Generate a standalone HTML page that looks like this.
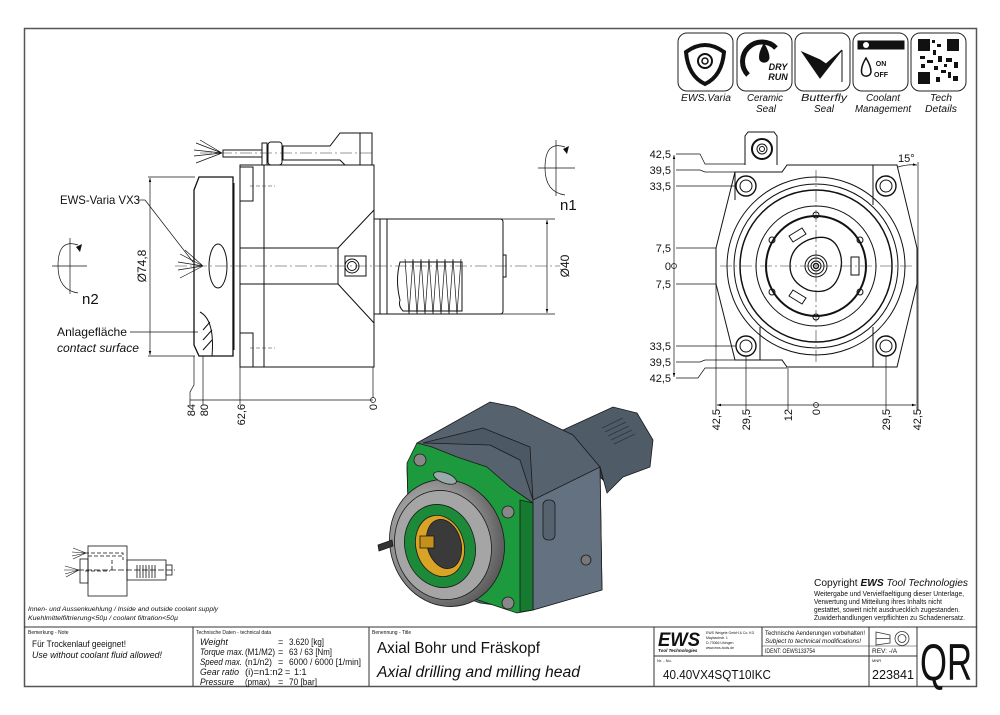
<!DOCTYPE html>
<html><head><meta charset="utf-8"><style>
html,body{margin:0;padding:0;background:#fff;}
svg{display:block;}
text{font-family:"Liberation Sans",sans-serif;fill:#111;}
</style></head><body>
<svg width="1000" height="715" viewBox="0 0 1000 715" xmlns="http://www.w3.org/2000/svg">
<defs>
<radialGradient id="ring" cx="0.4" cy="0.4" r="0.7"><stop offset="0" stop-color="#d8d8d8"/><stop offset="0.6" stop-color="#8a8a8a"/><stop offset="1" stop-color="#4a4a4a"/></radialGradient>
<marker id="ar" viewBox="0 0 10 10" refX="10" refY="5" markerWidth="6" markerHeight="6" orient="auto-start-reverse"><path d="M0,2 L10,5 L0,8z" fill="#000"/></marker>
</defs>
<rect x="24.5" y="28.5" width="952" height="658" fill="none" stroke="#555" stroke-width="1.5"/>

<!-- icons -->
<g fill="none" stroke="#222" stroke-width="1">
<rect x="678" y="33" width="55" height="58" rx="9"/>
<rect x="737" y="33" width="55" height="58" rx="9"/>
<rect x="795" y="33" width="55" height="58" rx="9"/>
<rect x="853" y="33" width="55" height="58" rx="9"/>
<rect x="911" y="33" width="55" height="58" rx="9"/>
</g>
<g stroke="#111" fill="none">
<path d="M686,52 Q705,38 724,52 Q722,76 705,84 Q688,76 686,52z" stroke-width="4"/>
<circle cx="705" cy="61" r="7" stroke-width="2"/><circle cx="705" cy="61" r="3" stroke-width="1.5"/>
<path d="M748,75 A18,18 0 1 1 776,48" stroke-width="5"/>
<path d="M764,44 Q758,54 760,60 A5,5 0 0 0 769,58 Q769,52 764,44z" fill="#111"/>
<path d="M802,52 L820,78 L842,50 L826,64 L820,60 L802,52z" fill="#111"/>
<line x1="842" y1="50" x2="842" y2="82" stroke-width="1"/>
<rect x="858" y="41" width="46" height="8" fill="#111"/>
<circle cx="866" cy="45" r="3" fill="#fff" stroke="none"/>
<path d="M866,58 Q860,68 862,74 A5,5 0 0 0 871,72 Q871,66 866,58z" stroke-width="1.5"/>
</g>
<text x="881" y="66" font-size="7" font-weight="bold" text-anchor="middle">ON</text>
<text x="881" y="77" font-size="7" font-weight="bold" text-anchor="middle">OFF</text>
<text x="778" y="70" font-size="9" font-weight="bold" font-style="italic" text-anchor="middle">DRY</text>
<text x="778" y="80" font-size="9" font-weight="bold" font-style="italic" text-anchor="middle">RUN</text>
<g fill="#111">
<rect x="918" y="39" width="12" height="12"/><rect x="947" y="39" width="12" height="12"/><rect x="918" y="72" width="12" height="12"/>
<rect x="932" y="40" width="3" height="3"/><rect x="937" y="44" width="4" height="3"/><rect x="933" y="50" width="3" height="5"/><rect x="920" y="56" width="5" height="3"/><rect x="927" y="60" width="6" height="3"/><rect x="938" y="56" width="4" height="6"/><rect x="946" y="58" width="6" height="4"/><rect x="954" y="62" width="4" height="6"/><rect x="934" y="66" width="4" height="4"/><rect x="941" y="70" width="5" height="3"/><rect x="948" y="72" width="3" height="6"/><rect x="936" y="77" width="4" height="5"/><rect x="953" y="76" width="5" height="5"/><rect x="921" y="64" width="4" height="4"/><rect x="944" y="64" width="3" height="3"/>
</g>
<g font-size="10" font-style="italic">
<text x="681" y="101" textLength="50" lengthAdjust="spacingAndGlyphs">EWS.Varia</text>
<text x="747" y="101" textLength="36" lengthAdjust="spacingAndGlyphs">Ceramic</text><text x="756" y="112" textLength="20" lengthAdjust="spacingAndGlyphs">Seal</text>
<text x="801" y="101" textLength="46" lengthAdjust="spacingAndGlyphs">Butterfly</text><text x="814" y="112" textLength="20" lengthAdjust="spacingAndGlyphs">Seal</text>
<text x="866" y="101" textLength="34" lengthAdjust="spacingAndGlyphs">Coolant</text><text x="855" y="112" textLength="56" lengthAdjust="spacingAndGlyphs">Management</text>
<text x="930" y="101" textLength="22" lengthAdjust="spacingAndGlyphs">Tech</text><text x="925" y="112" textLength="32" lengthAdjust="spacingAndGlyphs">Details</text>
</g>

<!-- LEFT VIEW -->
<g stroke="#111" stroke-width="1" fill="none">
<path d="M223,150 L262,150 L262,157 L223,157z"/>
<rect x="262" y="143" width="5" height="22"/>
<rect x="268" y="142" width="14" height="23" rx="3"/>
<path d="M283,146 L330,146 L340,133 L372,133 L372,165 L345,165 L340,160 L283,160z"/>
<line x1="360" y1="133" x2="360" y2="165"/>
<path d="M222,153 L196,143 M222,153 L194,150 M222,153 L194,156 M222,153 L196,163 M222,153 L200,140" stroke-width="0.7"/>
<path d="M203,266 L180,254 M203,266 L178,262 M203,266 L178,270 M203,266 L180,278 M203,266 L185,250" stroke-width="0.7"/>
<rect x="240" y="165" width="134" height="202"/>
<line x1="264" y1="165" x2="264" y2="367"/>
<rect x="240" y="167" width="13" height="34"/>
<rect x="240" y="333" width="13" height="34"/>
<line x1="374" y1="210" x2="338" y2="248"/>
<line x1="374" y1="323" x2="338" y2="284"/>
<line x1="240" y1="248" x2="338" y2="248"/><line x1="240" y1="284" x2="338" y2="284"/>
<line x1="338" y1="248" x2="338" y2="284"/>
<rect x="345" y="256" width="21" height="20"/>
<circle cx="352" cy="266" r="7"/><circle cx="352" cy="266" r="4.5"/>
<path d="M199,177 L233,177 L233,356 L199,356 L194,345 L194,190z" stroke-width="1.3"/>
<line x1="234" y1="183" x2="234" y2="350"/>
<ellipse cx="218" cy="266" rx="9" ry="22"/>
<path d="M200,312 Q215,320 212,356" />
<path d="M203,330 L210,322 M203,340 L212,330 M203,350 L212,340"/>
<rect x="374" y="219" width="13" height="95"/>
<line x1="380" y1="219" x2="380" y2="314"/>
<path d="M387,219 L500,219 Q503,219 503,222 L503,311 Q503,314 500,314 L387,314z"/>
<rect x="503" y="255" width="3" height="22"/>
<path d="M400,300 Q395,280 400,262 L462,262 L462,311 L403,311 Q398,306 400,300z"/>
<path d="M405,259 L409,314 L413,259 L417,314 L421,259 L425,314 L429,259 L433,314 L437,259 L441,314 L445,259 L449,314 L453,259 L457,314 L461,259" stroke-width="0.7"/>
</g>
<g stroke="#333" stroke-width="0.6" stroke-dasharray="12,3,2,3" fill="none">
<line x1="175" y1="266" x2="560" y2="266"/>
<line x1="200" y1="153" x2="372" y2="153"/>
<line x1="250" y1="186" x2="275" y2="186" stroke-dasharray="4,2"/>
<line x1="250" y1="348" x2="275" y2="348" stroke-dasharray="4,2"/>
</g>
<g stroke="#111" stroke-width="0.7" fill="none">
<line x1="148" y1="177" x2="195" y2="177"/><line x1="148" y1="356" x2="195" y2="356"/>
<line x1="150" y1="178" x2="150" y2="355" marker-start="url(#ar)" marker-end="url(#ar)"/>
<line x1="500" y1="219" x2="555" y2="219"/><line x1="500" y1="314" x2="555" y2="314"/>
<line x1="547" y1="220" x2="547" y2="313" marker-start="url(#ar)" marker-end="url(#ar)"/>
<line x1="137" y1="200" x2="145" y2="200"/><line x1="145" y1="200" x2="193" y2="262"/>
<line x1="130" y1="332" x2="198" y2="332"/>
<path d="M194,356 L194,385 L190,392 L190,405"/>
<line x1="203" y1="356" x2="203" y2="405"/>
<line x1="240" y1="367" x2="240" y2="405"/>
<line x1="373" y1="367" x2="373" y2="398"/>
<line x1="190" y1="400" x2="373" y2="400"/>
<circle cx="373" cy="400" r="2.5"/>
<line x1="52" y1="266" x2="87" y2="266"/><line x1="70" y1="238" x2="70" y2="294"/>
<path d="M78,245 Q58,238 58,266 Q58,290 78,293"/>
<line x1="538" y1="168" x2="575" y2="168"/><line x1="556" y1="140" x2="556" y2="196"/>
<path d="M565,147 Q545,140 545,168 Q545,192 565,195"/>
</g>
<path d="M76,247 L82,244 L80,252z" fill="#111"/>
<path d="M563,149 L569,146 L567,154z" fill="#111"/>
<g font-size="12">
<text x="60" y="204" textLength="80" lengthAdjust="spacingAndGlyphs">EWS-Varia VX3</text>
<text x="57" y="336" textLength="70" lengthAdjust="spacingAndGlyphs">Anlagefläche</text>
<text x="57" y="352" font-style="italic" textLength="82" lengthAdjust="spacingAndGlyphs">contact surface</text>
<text x="82" y="304" font-size="15">n2</text>
<text x="560" y="210" font-size="15">n1</text>
<text transform="translate(146,266) rotate(-90)" text-anchor="middle">Ø74,8</text>
<text transform="translate(569,266) rotate(-90)" text-anchor="middle">Ø40</text>
<g font-size="11" text-anchor="end">
<text transform="translate(195,404) rotate(-90)">84</text>
<text transform="translate(208,404) rotate(-90)">80</text>
<text transform="translate(245,404) rotate(-90)">62,6</text>
<text transform="translate(377,404) rotate(-90)">0</text>
</g>
</g>

<!-- RIGHT VIEW -->
<g stroke="#111" stroke-width="1" fill="none">
<path d="M745,165 L745,136 L748,132 L774,132 L777,136 L777,165"/>
<path d="M787,165 L897,165 L917,248 L917,284 L897,367 L787,367 L782,360 L735,360 L716,284 L716,248 L735,172 L782,172z"/>
<circle cx="762" cy="149" r="10" stroke-width="2"/><circle cx="762" cy="149" r="5"/><circle cx="762" cy="149" r="2.5"/>
<line x1="735" y1="172" x2="735" y2="200"/>
<path d="M873,165 L873,205 M873,327 L873,367 M760,327 L760,360"/>
<g stroke-width="1.4">
<circle cx="746" cy="186" r="10"/><circle cx="886" cy="186" r="10"/><circle cx="746" cy="346" r="10"/><circle cx="886" cy="346" r="10"/>
</g>
<circle cx="746" cy="186" r="6"/><circle cx="886" cy="186" r="6"/><circle cx="746" cy="346" r="6"/><circle cx="886" cy="346" r="6"/>
<circle cx="816" cy="266" r="89"/>
<circle cx="816" cy="266" r="82"/>
<circle cx="816" cy="266" r="76" stroke-width="1.5"/>
<circle cx="816" cy="266" r="60"/>
<circle cx="816" cy="266" r="50" stroke-width="2"/>
<path d="M790,266 Q790,248 808,240 Q830,232 838,248 Q845,262 838,278 Q830,296 808,290 Q790,282 790,266z" stroke-width="1.3"/>
<circle cx="816" cy="266" r="11"/><circle cx="816" cy="266" r="8"/><circle cx="816" cy="266" r="5"/><circle cx="816" cy="266" r="2.5" stroke-width="1.5"/>
<circle cx="816" cy="215" r="3"/><circle cx="816" cy="317" r="3"/><circle cx="772" cy="240" r="3"/><circle cx="860" cy="240" r="3"/><circle cx="772" cy="292" r="3"/><circle cx="860" cy="292" r="3"/>
<rect x="851" y="257" width="8" height="18"/>
<path d="M789,236 L802,228 L806,234 L793,242z M789,296 L802,304 L806,298 L793,290z"/>
</g>
<g stroke="#333" stroke-width="0.6" stroke-dasharray="12,3,2,3">
<line x1="816" y1="170" x2="816" y2="362"/><line x1="720" y1="266" x2="912" y2="266"/>
</g>
<g stroke="#111" stroke-width="0.7" fill="none">
<path d="M676,154 L700,154 L705,164 L745,164"/>
<path d="M676,170 L700,170 L705,172 L735,172"/>
<line x1="676" y1="186" x2="736" y2="186"/>
<line x1="676" y1="248" x2="716" y2="248"/><line x1="676" y1="284" x2="716" y2="284"/>
<line x1="676" y1="346" x2="736" y2="346"/>
<path d="M676,362 L700,362 L705,360 L735,360"/>
<path d="M676,378 L698,378 L705,368 L787,368"/>
<line x1="674" y1="155" x2="674" y2="377" marker-start="url(#ar)" marker-end="url(#ar)"/>
<circle cx="674" cy="266" r="2.5"/>
<line x1="716" y1="284" x2="716" y2="410"/><line x1="746" y1="356" x2="746" y2="410"/>
<line x1="788" y1="368" x2="788" y2="410"/><line x1="917" y1="284" x2="917" y2="410"/>
<line x1="886" y1="356" x2="886" y2="410"/><line x1="918" y1="162" x2="918" y2="410"/>
<line x1="717" y1="405" x2="786" y2="405" marker-start="url(#ar)"/>
<line x1="846" y1="405" x2="916" y2="405" marker-end="url(#ar)"/>
<line x1="786" y1="405" x2="846" y2="405"/>
<circle cx="816" cy="405" r="2.5"/>
<path d="M898,167 Q908,164 917,165" marker-end="url(#ar)"/>
</g>
<g font-size="11">
<g text-anchor="end">
<text x="671" y="158">42,5</text><text x="671" y="174">39,5</text><text x="671" y="190">33,5</text>
<text x="671" y="252">7,5</text><text x="671" y="270">0</text><text x="671" y="288">7,5</text>
<text x="671" y="350">33,5</text><text x="671" y="366">39,5</text><text x="671" y="382">42,5</text>
</g>
<text x="898" y="162">15°</text>
<g text-anchor="end">
<text transform="translate(720,409) rotate(-90)">42,5</text>
<text transform="translate(750,409) rotate(-90)">29,5</text>
<text transform="translate(792,409) rotate(-90)">12</text>
<text transform="translate(820,409) rotate(-90)">0</text>
<text transform="translate(890,409) rotate(-90)">29,5</text>
<text transform="translate(921,409) rotate(-90)">42,5</text>
</g>
</g>

<!-- 3D render -->
<g stroke="#1a1a1a" stroke-width="0.8">
<path d="M563,430 L613,407 L637,413 L653,440 L650,467 L623,477 L607,493 L600,467z" fill="#4f5b66"/>
<path d="M563,430 L600,467 L603,480 L560,440z" fill="#3f4a54"/>
<path d="M417,443 L490,402 L515,407 L573,435 L600,467 L602,590 L533,610 L480,603 L410,577 L407,467z" fill="#56636e"/>
<path d="M533,500 L600,467 L602,590 L533,610z" fill="#637180"/>
<path d="M423,443 L483,428 L530,447 L533,500 L520,460 L490,445z" fill="#4c5864"/>
<path d="M407,463 L417,443 L432,447 L457,457 L487,467 L510,487 L533,503 L533,610 L517,613 L487,603 L410,577z" fill="#1d9a3d"/>
<path d="M520,500 L533,503 L533,610 L520,612z" fill="#167a30"/>
<rect x="543" y="500" width="12" height="40" rx="5" fill="#56636e"/>
<circle cx="420" cy="460" r="6" fill="#888"/><circle cx="508" cy="512" r="6" fill="#888"/><circle cx="508" cy="603" r="6" fill="#888"/><circle cx="586" cy="560" r="5" fill="#777"/>
<path d="M602,428 L623,418 M605,432 L626,422 M608,436 L629,426 M611,440 L632,430 M614,444 L635,434" stroke="#2e3740"/>
<ellipse cx="447" cy="543" rx="57" ry="64" fill="url(#ring)" transform="rotate(-15 447 543)"/>
<ellipse cx="443" cy="545" rx="48" ry="55" fill="#a5a5a5" transform="rotate(-15 443 545)"/>
<ellipse cx="440" cy="546" rx="35" ry="42" fill="#1d8a3a" transform="rotate(-15 440 546)"/>
<ellipse cx="440" cy="546" rx="24" ry="31" fill="#d9a326" transform="rotate(-15 440 546)"/>
<ellipse cx="444" cy="544" rx="17" ry="25" fill="#3a3a3a" transform="rotate(-15 444 544)"/>
<rect x="420" y="536" width="14" height="12" fill="#c58f1b"/>
<ellipse cx="445" cy="478" rx="12" ry="5" fill="#9aa" transform="rotate(20 445 478)"/>
<path d="M378,545 L392,540 L393,546 L379,551z" fill="#333"/>
</g>

<!-- small schematic -->
<g stroke="#111" stroke-width="0.8" fill="none">
<rect x="88" y="546" width="39" height="50"/>
<rect x="80" y="559" width="8" height="24"/>
<rect x="127" y="560" width="39" height="20"/>
<rect x="166" y="565" width="6" height="10"/>
<path d="M137,565 V578 M140,565 V578 M143,565 V578 M146,565 V578 M149,565 V578 M152,565 V578 M155,565 V578"/>
<path d="M85,553 L123,553 L123,560 M85,571 L110,571 M112,560 L112,571 M88,556 L123,556" stroke-dasharray="4,2"/>
<path d="M78,570 L175,570" stroke-dasharray="6,2"/>
<path d="M86,553 L73,548 M86,553 L72,552 M86,553 L72,556 M86,553 L73,559 M79,570 L65,566 M79,570 L64,570 M79,570 L65,574 M79,570 L66,577" stroke-width="0.6"/>
</g>
<g font-size="6.5" font-style="italic">
<text x="28" y="611" textLength="190" lengthAdjust="spacingAndGlyphs">Innen- und Aussenkuehlung / Inside and outside coolant supply</text>
<text x="28" y="620" textLength="150" lengthAdjust="spacingAndGlyphs">Kuehlmittelfiltrierung&lt;50µ / coolant filtration&lt;50µ</text>
</g>

<!-- copyright -->
<text x="814" y="586" font-size="10.5" textLength="154" lengthAdjust="spacingAndGlyphs">Copyright <tspan font-weight="bold" font-style="italic">EWS</tspan> <tspan font-style="italic">Tool Technologies</tspan></text>
<g font-size="7.3">
<text x="814" y="596" textLength="150" lengthAdjust="spacingAndGlyphs">Weitergabe und Vervielfaeltigung dieser Unterlage,</text>
<text x="814" y="604" textLength="128" lengthAdjust="spacingAndGlyphs">Verwertung und Mitteilung ihres Inhalts nicht</text>
<text x="814" y="612" textLength="146" lengthAdjust="spacingAndGlyphs">gestattet, soweit nicht ausdruecklich zugestanden.</text>
<text x="814" y="620" textLength="151" lengthAdjust="spacingAndGlyphs">Zuwiderhandlungen verpflichten zu Schadenersatz.</text>
</g>

<!-- title block -->
<g stroke="#333" stroke-width="1" fill="none">
<line x1="24" y1="627" x2="977" y2="627"/>
<line x1="193" y1="627" x2="193" y2="686"/>
<line x1="369" y1="627" x2="369" y2="686"/>
<line x1="654" y1="627" x2="654" y2="686"/>
<line x1="917" y1="627" x2="917" y2="686"/>
<line x1="654" y1="656" x2="917" y2="656"/>
<line x1="762" y1="627" x2="762" y2="656"/>
<line x1="869" y1="627" x2="869" y2="686"/>
<line x1="762" y1="646" x2="917" y2="646" stroke-width="0.6"/>
<path d="M876,632 L890,635 L890,643 L876,645z M876,638.5 L890,638.5" stroke-width="0.8"/>
<circle cx="902" cy="638.5" r="7" stroke-width="0.8"/><circle cx="902" cy="638.5" r="4" stroke-width="0.8"/>
</g>
<text x="28" y="634" font-size="5">Bemerkung - Note</text>
<text x="32" y="647" font-size="9.5" textLength="94" lengthAdjust="spacingAndGlyphs">Für Trockenlauf geeignet!</text>
<text x="32" y="658" font-size="9.5" font-style="italic" textLength="130" lengthAdjust="spacingAndGlyphs">Use without coolant fluid allowed!</text>
<text x="196" y="634" font-size="5">Technische Daten - technical data</text>
<g font-size="9">
<text x="200" y="645" font-style="italic">Weight</text>
<text x="200" y="655" font-style="italic" textLength="44" lengthAdjust="spacingAndGlyphs">Torque max.</text>
<text x="200" y="665" font-style="italic" textLength="42" lengthAdjust="spacingAndGlyphs">Speed max.</text>
<text x="200" y="675" font-style="italic" textLength="39" lengthAdjust="spacingAndGlyphs">Gear ratio</text>
<text x="200" y="685" font-style="italic" textLength="34" lengthAdjust="spacingAndGlyphs">Pressure</text>
<text x="245" y="655" textLength="30" lengthAdjust="spacingAndGlyphs">(M1/M2)</text>
<text x="245" y="665" textLength="27" lengthAdjust="spacingAndGlyphs">(n1/n2)</text>
<text x="245" y="675" textLength="38" lengthAdjust="spacingAndGlyphs">(i)=n1:n2</text>
<text x="245" y="685" textLength="25" lengthAdjust="spacingAndGlyphs">(pmax)</text>
<text x="278" y="645">=</text><text x="278" y="655">=</text><text x="278" y="665">=</text><text x="285" y="675">=</text><text x="278" y="685">=</text>
<text x="289" y="645" textLength="35" lengthAdjust="spacingAndGlyphs">3.620 [kg]</text>
<text x="289" y="655" textLength="43" lengthAdjust="spacingAndGlyphs">63 / 63 [Nm]</text>
<text x="289" y="665" textLength="72" lengthAdjust="spacingAndGlyphs">6000 / 6000 [1/min]</text>
<text x="294" y="675">1:1</text>
<text x="289" y="685" textLength="28" lengthAdjust="spacingAndGlyphs">70 [bar]</text>
</g>
<text x="372" y="634" font-size="5">Benennung - Title</text>
<text x="377" y="653" font-size="15.5" textLength="163" lengthAdjust="spacingAndGlyphs">Axial Bohr und Fräskopf</text>
<text x="377" y="677" font-size="15.5" font-style="italic" textLength="203" lengthAdjust="spacingAndGlyphs">Axial drilling and milling head</text>
<text x="658" y="646" font-size="19" font-weight="bold" font-style="italic" textLength="42" lengthAdjust="spacingAndGlyphs">EWS</text>
<text x="658" y="652" font-size="4.5" font-weight="bold" font-style="italic">Tool Technologies</text>
<g font-size="3.5"><text x="706" y="634">EWS Weigele GmbH &amp; Co. KG</text><text x="706" y="639">Maybachstr. 1</text><text x="706" y="644">D-73066 Uhingen</text><text x="706" y="649">www.ews-tools.de</text></g>
<text x="765" y="635" font-size="6.5" textLength="100" lengthAdjust="spacingAndGlyphs">Technische Aenderungen vorbehalten!</text>
<text x="765" y="643" font-size="6.5" font-style="italic" textLength="96" lengthAdjust="spacingAndGlyphs">Subject to technical modifications!</text>
<text x="765" y="653" font-size="6.5" textLength="50" lengthAdjust="spacingAndGlyphs">IDENT:  OEWS133754</text>
<text x="872" y="653" font-size="6.5">REV:  -/A</text>
<text x="657" y="662" font-size="4">Nr. - No.</text>
<text x="663" y="679" font-size="13" textLength="108" lengthAdjust="spacingAndGlyphs">40.40VX4SQT10IKC</text>
<text x="872" y="662" font-size="4">MNR</text>
<text x="872" y="679" font-size="13" textLength="42" lengthAdjust="spacingAndGlyphs">223841</text>
<text x="920" y="680" font-size="52" textLength="52" lengthAdjust="spacingAndGlyphs">QR</text>
</svg>
</body></html>
